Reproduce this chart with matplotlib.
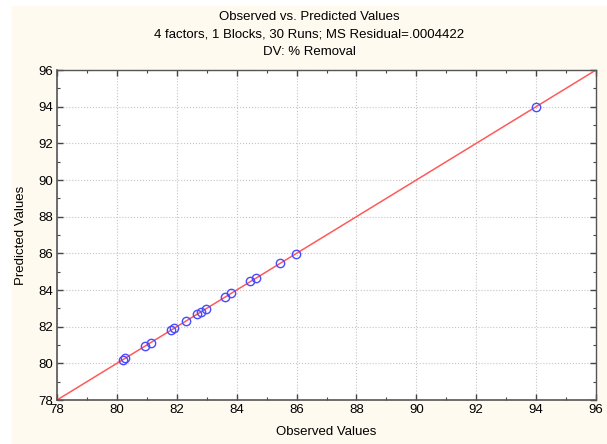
import matplotlib
matplotlib.use('Agg')
import numpy as np
import matplotlib.pyplot as plt
from matplotlib.patches import Rectangle
from matplotlib.ticker import MultipleLocator

# observed vs predicted (% removal)
observed = [80.19, 80.27, 80.94, 81.13, 81.81, 81.91, 82.31, 82.69, 82.80,
            82.97, 83.61, 83.81, 84.45, 84.64, 85.45, 85.97, 94.00]
predicted = [80.20, 80.27, 80.97, 81.12, 81.80, 81.93, 82.33, 82.70, 82.81,
             82.97, 83.64, 83.82, 84.47, 84.64, 85.47, 85.98, 94.00]
ref_line = [78, 96]

title_lines = ["Observed vs. Predicted Values",
               "4 factors, 1 Blocks, 30 Runs; MS Residual=.0004422",
               "DV: % Removal"]

plt.rcParams['font.family'] = ['Liberation Sans', 'DejaVu Sans']

fig = plt.figure(figsize=(6.07, 4.44), dpi=100)
fig.patch.set_facecolor('white')
# cream panel behind everything
fig.patches.append(Rectangle((12 / 607, 0), 1, 1 - 6 / 444,
                             transform=fig.transFigure,
                             facecolor='#fffaf0', edgecolor='none', zorder=-1))

ax = fig.add_axes([57 / 607, 44 / 444, 539 / 607, 330 / 444])
ax.set_facecolor('white')

ax.plot(ref_line, ref_line, color='#ff5a5a', lw=1.1, zorder=2)
ax.plot(observed, predicted, 'o', ms=6, mfc='none', mec='#4a4aff',
        mew=1.0, zorder=3)

ax.set_xlim(78, 96)
ax.set_ylim(78, 96)
ax.xaxis.set_major_locator(MultipleLocator(2))
ax.yaxis.set_major_locator(MultipleLocator(2))
ax.xaxis.set_minor_locator(MultipleLocator(1))
ax.yaxis.set_minor_locator(MultipleLocator(1))
ax.tick_params(which='both', direction='in', top=True, right=True,
               color='#444444')
ax.tick_params(which='major', length=4, width=1, labelsize=9.5, pad=3)
ax.tick_params(which='minor', length=2, width=0.8)
ax.grid(True, which='major', ls=':', color='#c4c4c4', lw=0.8)

for side in ['left', 'bottom']:
    ax.spines[side].set_linewidth(1.2)
    ax.spines[side].set_color('#555555')
for side in ['top', 'right']:
    ax.spines[side].set_linewidth(1.0)
    ax.spines[side].set_color('#555555')

ax.set_xlabel("Observed Values", fontsize=9.5, labelpad=7)
ax.set_ylabel("Predicted Values", fontsize=9.5, labelpad=8)

# titles are centred on the cream panel, not on the axes
cx = (12 + 607) / 2 / 607
for i, line in enumerate(title_lines):
    fig.text(cx, 1 - (17 + i * 17.5) / 444, line, ha='center', va='center',
             fontsize=9.5)

fig.savefig("out.png", dpi=100)
